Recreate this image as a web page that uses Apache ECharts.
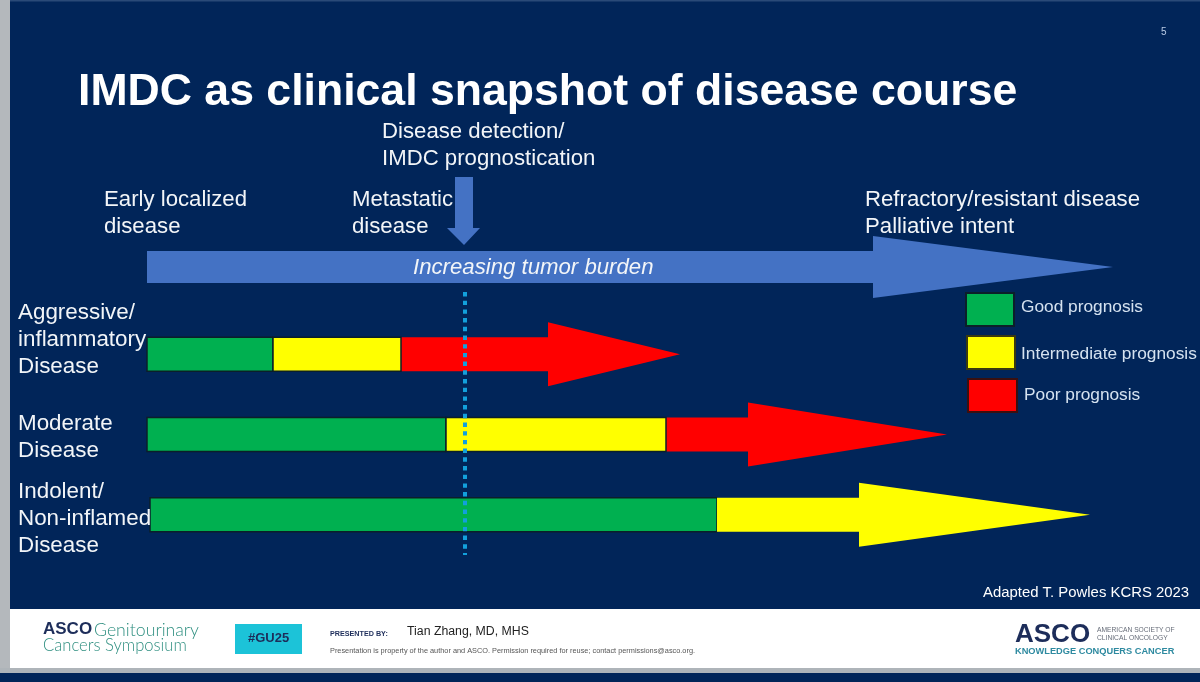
<!DOCTYPE html>
<html>
<head>
<meta charset="utf-8">
<style>html,body{margin:0;padding:0;background:#012559}#main{width:1200px;height:682px}</style>
<script src="https://cdn.jsdelivr.net/npm/echarts@6/dist/echarts.min.js"></script>
</head>
<body>
<div id="main"></div>
<script>
// values, on a 0-1200 disease course scale
var rows = ['Aggressive/\ninflammatory\nDisease', 'Moderate\nDisease', 'Indolent/\nNon-inflamed\nDisease'];
var barStart = [147, 147, 150];
var goodEnd = [273, 446, 717];
var intermediateEnd = [401, 666, 859];
var poorEnd = [548, 748, null];
var arrowTip = [680, 947, 1090];
var burdenBar = [147, 873, 1113];
var detectionAt = 465;
var prognosisNames = ['Good prognosis', 'Intermediate prognosis', 'Poor prognosis'];
var prognosisColors = ['#00b050', '#ffff00', '#ff0000'];

var NAVY = '#012559';
var WHITE = '#f2f5f8';
var FONT = '"Liberation Sans", Arial, sans-serif';

// flat bar, or arrow when tip is given
function segment(params, api) {
  var row = api.value(0), x0 = api.coord([api.value(1), row]), x1 = api.coord([api.value(2), row]);
  var tip = api.value(3);
  var cy = x0[1];
  if (tip > 0) {
    var tx = api.coord([tip, row])[0];
    return {
      type: 'polygon',
      shape: { points: [[x0[0], cy - 17], [x1[0], cy - 17], [x1[0], cy - 32], [tx, cy], [x1[0], cy + 32], [x1[0], cy + 17], [x0[0], cy + 17]] },
      style: { fill: api.visual('color') }
    };
  }
  return {
    type: 'rect',
    shape: { x: x0[0], y: cy - 17, width: x1[0] - x0[0], height: 34 },
    style: { fill: api.visual('color'), stroke: '#0b1f2a', lineWidth: 1.5 }
  };
}

var goodData = rows.map(function (r, i) { return [i, barStart[i], goodEnd[i], 0]; });
var intermediateData = rows.map(function (r, i) {
  return [i, goodEnd[i], intermediateEnd[i], poorEnd[i] === null ? arrowTip[i] : 0];
});
var poorData = [];
rows.forEach(function (r, i) {
  if (poorEnd[i] !== null) poorData.push([i, intermediateEnd[i], poorEnd[i], arrowTip[i]]);
});

function text(x, y, str, size, extra) {
  return {
    type: 'text', x: x, y: y, z: 20, silent: true,
    style: Object.assign({ text: str, fill: WHITE, font: (size || 22.2) + 'px ' + FONT, lineHeight: 27 }, extra || {})
  };
}
function foot(x, y, str, fill, font, extra) {
  return { type: 'text', x: x, y: y, z: 20, silent: true, style: Object.assign({ text: str, fill: fill, font: font }, extra || {}) };
}
function rect(x, y, w, h, fill, stroke) {
  return { type: 'rect', silent: true, shape: { x: x, y: y, width: w, height: h }, style: { fill: fill, stroke: stroke || null, lineWidth: 2 } };
}

var chart = echarts.init(document.getElementById('main'));
chart.setOption({
  animation: false,
  backgroundColor: NAVY,
  grid: [
    { left: 0, right: 0, top: 0, bottom: 0, outerBoundsMode: 'none' },
    { left: 0, right: 0, top: 314, height: 241, outerBoundsMode: 'none' }
  ],
  xAxis: [
    { gridIndex: 0, type: 'value', min: 0, max: 1200, show: false },
    { gridIndex: 1, type: 'value', min: 0, max: 1200, show: false }
  ],
  yAxis: [
    { gridIndex: 0, type: 'value', min: 0, max: 682, inverse: true, show: false },
    { gridIndex: 1, type: 'category', data: rows, inverse: true, show: false }
  ],
  series: [
    {
      name: 'Disease detection', type: 'line', xAxisIndex: 0, yAxisIndex: 0, z: 8,
      data: [[detectionAt, 292], [detectionAt, 555]], symbol: 'none',
      lineStyle: { color: '#12a0dc', width: 4, type: [4.4, 4.3] }
    },
    { name: prognosisNames[0], type: 'custom', xAxisIndex: 1, yAxisIndex: 1, z: 3, renderItem: segment, data: goodData, encode: { x: [1, 2], y: 0 }, itemStyle: { color: prognosisColors[0] } },
    { name: prognosisNames[1], type: 'custom', xAxisIndex: 1, yAxisIndex: 1, z: 3, renderItem: segment, data: intermediateData, encode: { x: [1, 2], y: 0 }, itemStyle: { color: prognosisColors[1] } },
    { name: prognosisNames[2], type: 'custom', xAxisIndex: 1, yAxisIndex: 1, z: 1, renderItem: segment, data: poorData, encode: { x: [1, 2], y: 0 }, itemStyle: { color: prognosisColors[2] } },
    {
      name: 'Increasing tumor burden', type: 'custom', xAxisIndex: 0, yAxisIndex: 0, z: 1,
      data: [[267, burdenBar[0], burdenBar[1], burdenBar[2]]],
      encode: { x: [1, 2], y: 0 },
      renderItem: function (params, api) {
        var a = api.coord([api.value(1), api.value(0)]), b = api.coord([api.value(2), api.value(0)]), t = api.coord([api.value(3), api.value(0)]);
        return {
          type: 'polygon',
          shape: { points: [[a[0], a[1] - 16], [b[0], a[1] - 16], [b[0], a[1] - 31], [t[0], a[1]], [b[0], a[1] + 31], [b[0], a[1] + 16], [a[0], a[1] + 16]] },
          style: { fill: '#4472c4' }
        };
      }
    }
  ],
  graphic: { elements: [
    // slide frame and footer
    rect(0, 0, 10, 682, '#b4b8bc'),
    rect(10, 0, 1190, 1.5, '#2a4a78'),
    rect(10, 609, 1190, 59, '#ffffff'),
    rect(0, 668, 1200, 5, '#aeb4b9'),
    rect(0, 673, 1200, 9, NAVY),
    text(1161, 19, '5', 10, { fill: '#b9cbe6' }),
    foot(78, 70, 'IMDC as clinical snapshot of disease course', '#ffffff', 'bold 44.6px ' + FONT),
    text(382, 118, 'Disease detection/\nIMDC prognostication'),
    text(104, 186, 'Early localized\ndisease'),
    text(352, 186, 'Metastatic\ndisease'),
    text(865, 186, 'Refractory/resistant disease\nPalliative intent'),
    // row labels
    text(18, 299, rows[0], 22.4),
    text(18, 410, rows[1], 22.4),
    text(18, 478, rows[2], 22.4),
    // detection arrow
    { type: 'polygon', silent: true, shape: { points: [[455, 177], [473, 177], [473, 228], [480, 228], [464, 245], [447, 228], [455, 228]] }, style: { fill: '#4472c4' } },
    text(413, 254, 'Increasing tumor burden', 20, { font: 'italic 22.2px ' + FONT }),
    // legend
    rect(966, 293, 48, 33, prognosisColors[0], '#0b1f2a'),
    rect(967, 336, 48, 33, prognosisColors[1], '#3a3a10'),
    rect(968, 379, 49, 33, prognosisColors[2], '#3a1010'),
    text(1021, 294, prognosisNames[0], 17.3, { fill: '#d5e2f0' }),
    text(1021, 341, prognosisNames[1], 17.3, { fill: '#d5e2f0' }),
    text(1024, 382, prognosisNames[2], 17.3, { fill: '#d5e2f0' }),
    text(983, 579, 'Adapted T. Powles KCRS 2023', 14.9, { fill: '#ffffff' }),
    // footer text
    foot(43, 621, 'ASCO', '#1d2d5a', 'bold 17px ' + FONT),
    foot(94, 621, 'Genitourinary', '#2f8f80', '300 17.7px Lato, ' + FONT),
    foot(43, 637, 'Cancers Symposium', '#2f8f80', '300 16.6px Lato, ' + FONT),
    rect(235, 624, 67, 30, '#1cc3d8'),
    foot(248, 632, '#GU25', '#1d2d5a', 'bold 13px ' + FONT),
    foot(330, 631, 'PRESENTED BY:', '#1d2d5a', 'bold 7.2px ' + FONT),
    foot(407, 626, 'Tian Zhang, MD, MHS', '#222222', '12.3px ' + FONT),
    foot(330, 647, 'Presentation is property of the author and ASCO. Permission required for reuse; contact permissions@asco.org.', '#555555', '7.35px ' + FONT),
    foot(1015, 622, 'ASCO', '#1d2d5a', 'bold 26px ' + FONT),
    foot(1097, 626, 'AMERICAN SOCIETY OF\nCLINICAL ONCOLOGY', '#666c78', '6.7px ' + FONT, { lineHeight: 8 }),
    foot(1015, 647, 'KNOWLEDGE CONQUERS CANCER', '#2e8aa0', 'bold 9.25px ' + FONT)
  ] }
});
</script>
</body>
</html>
